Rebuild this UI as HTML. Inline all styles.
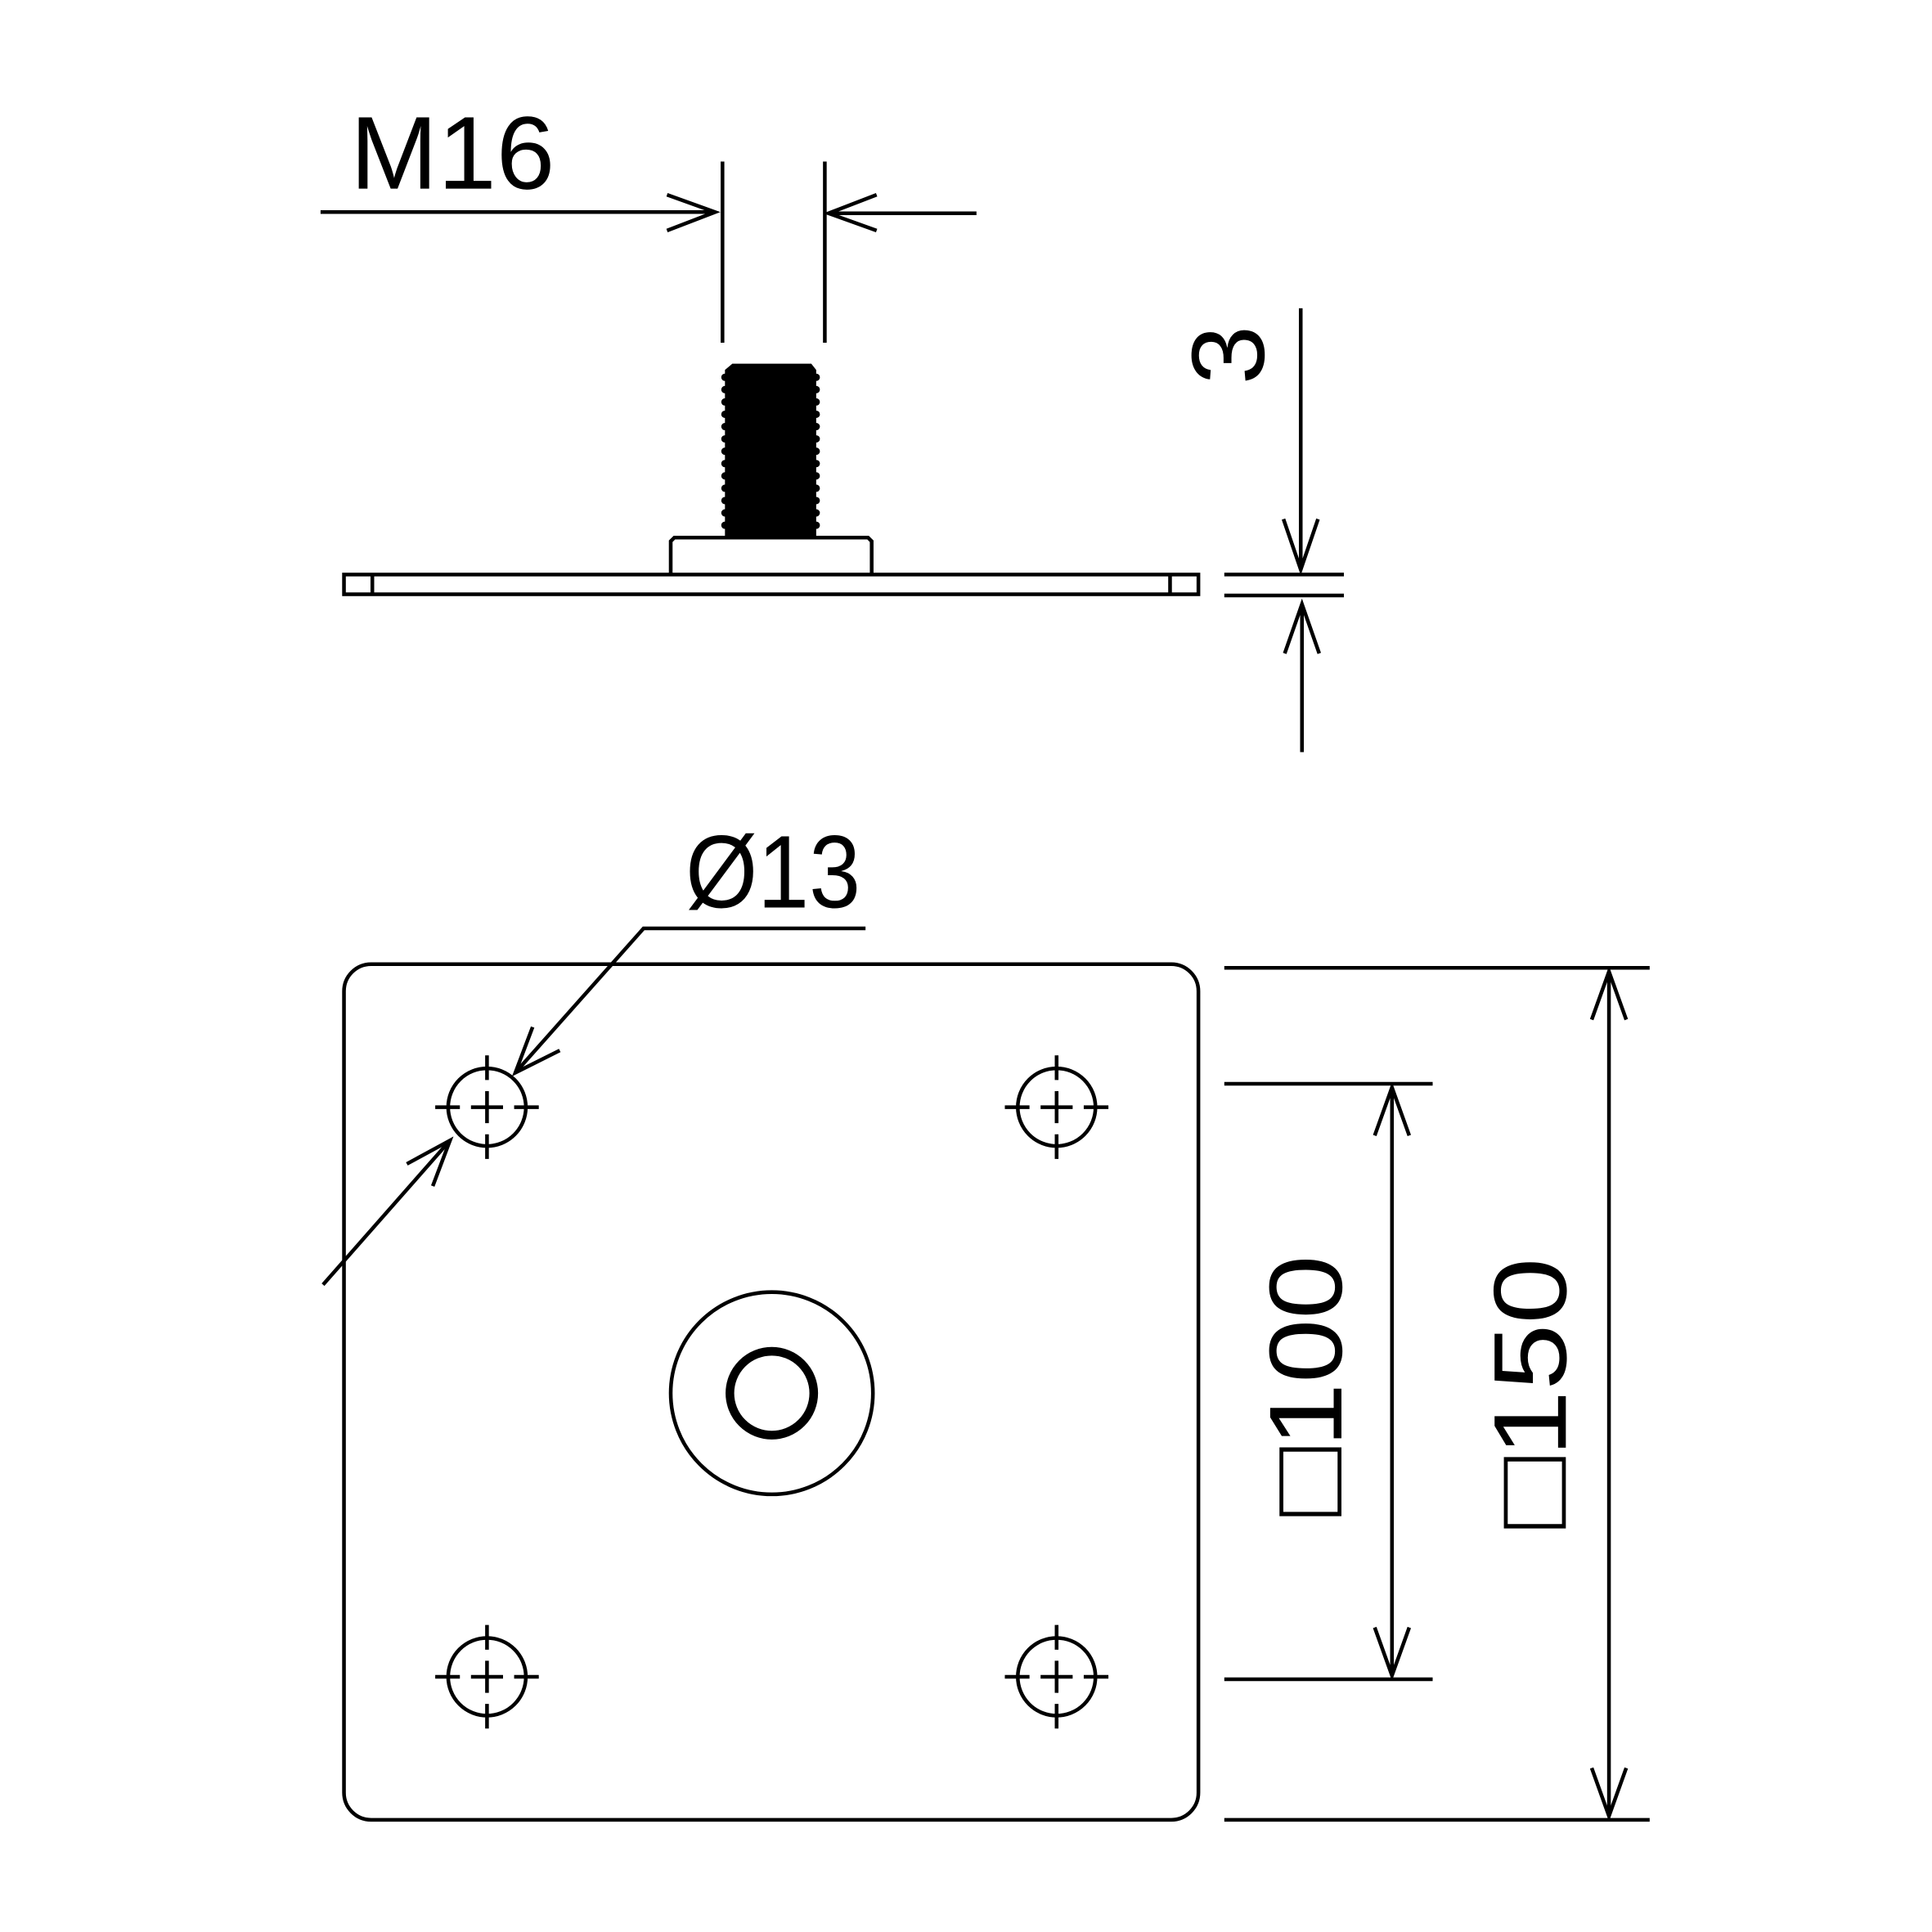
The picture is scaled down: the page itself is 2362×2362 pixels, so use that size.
<!DOCTYPE html>
<html><head><style>html,body{margin:0;padding:0;background:#fff}svg{display:block}</style></head>
<body>
<svg width="2362" height="2362" viewBox="0 0 1567 1567" xmlns="http://www.w3.org/2000/svg">
<defs>
<g id="hole">
<circle r="31.5" fill="none" stroke="#000" stroke-width="3"/>
<path d="M-42 0H-22M-13 0H13M22 0H42M0 -42V-22M0 -13V13M0 22V42" stroke="#000" stroke-width="3"/>
</g>
</defs>
<g fill="none" stroke="#000" stroke-width="3">
<!-- M16 dims -->
<line x1="260" y1="172" x2="580" y2="172"/>
<polyline points="541,158 580,172 541,187"/>
<line x1="586" y1="131" x2="586" y2="278"/>
<line x1="669" y1="131" x2="669" y2="278"/>
<line x1="672" y1="173" x2="792" y2="173"/>
<polyline points="711,158 672,173 711,187"/>
<!-- side view plate -->
<rect x="279" y="466" width="693" height="16"/>
<line x1="302" y1="466" x2="302" y2="482"/>
<line x1="949" y1="466" x2="949" y2="482"/>
<path d="M544 466V439l3-3h157l3 3V466"/>
<!-- 3 dim -->
<line x1="1055" y1="250" x2="1055" y2="462"/>
<polyline points="1041,421 1055,462 1069,421"/>
<line x1="1056" y1="490" x2="1056" y2="610"/>
<polyline points="1042,530 1056,490 1070,530"/>
<line x1="993" y1="466" x2="1090" y2="466"/>
<line x1="993" y1="483" x2="1090" y2="483"/>
<!-- top view plate -->
<rect x="279" y="782" width="693" height="694" rx="22"/>
<circle cx="626" cy="1130" r="82"/>
<circle cx="626" cy="1130" r="34" stroke-width="7"/>
<!-- dia 13 leader -->
<polyline points="702,753 522,753 418,870"/>
<polyline points="432,833 418,870 454,852"/>
<line x1="262" y1="1042" x2="365" y2="925"/>
<polyline points="330,944 365,925 351,962"/>
<!-- right dims -->
<line x1="993" y1="785" x2="1338" y2="785"/>
<line x1="993" y1="1476" x2="1338" y2="1476"/>
<line x1="993" y1="879" x2="1162" y2="879"/>
<line x1="993" y1="1362" x2="1162" y2="1362"/>
<line x1="1129" y1="882" x2="1129" y2="1359"/>
<polyline points="1115,921 1129,882 1143,921"/>
<polyline points="1115,1320 1129,1359 1143,1320"/>
<line x1="1305" y1="788" x2="1305" y2="1473"/>
<polyline points="1291,827 1305,788 1319,827"/>
<polyline points="1291,1434 1305,1473 1319,1434"/>
</g>
<!-- bolt -->
<path d="M594 295H658l4 5V436H588V300Z" fill="#000"/>
<g fill="#000">
<circle cx="588" cy="306" r="3"/><circle cx="588" cy="316" r="3"/><circle cx="588" cy="326" r="3"/><circle cx="588" cy="336" r="3"/><circle cx="588" cy="346" r="3"/><circle cx="588" cy="356" r="3"/><circle cx="588" cy="366" r="3"/><circle cx="588" cy="376" r="3"/><circle cx="588" cy="386" r="3"/><circle cx="588" cy="396" r="3"/><circle cx="588" cy="406" r="3"/><circle cx="588" cy="416" r="3"/><circle cx="588" cy="426" r="3"/>
<circle cx="662" cy="306" r="3"/><circle cx="662" cy="316" r="3"/><circle cx="662" cy="326" r="3"/><circle cx="662" cy="336" r="3"/><circle cx="662" cy="346" r="3"/><circle cx="662" cy="356" r="3"/><circle cx="662" cy="366" r="3"/><circle cx="662" cy="376" r="3"/><circle cx="662" cy="386" r="3"/><circle cx="662" cy="396" r="3"/><circle cx="662" cy="406" r="3"/><circle cx="662" cy="416" r="3"/><circle cx="662" cy="426" r="3"/>
</g>
<use href="#hole" x="395" y="898"/>
<use href="#hole" x="857" y="898"/>
<use href="#hole" x="395" y="1360"/>
<use href="#hole" x="857" y="1360"/>
<g font-family="Liberation Sans, sans-serif" font-size="84" fill="#000">
<text x="284" y="153" textLength="166" lengthAdjust="spacingAndGlyphs">M16</text>
<text x="556" y="736" textLength="142" lengthAdjust="spacingAndGlyphs">Ø13</text>
<text transform="translate(1025,312) rotate(-90)" textLength="48" lengthAdjust="spacingAndGlyphs">3</text>
<text transform="translate(1088,1230) rotate(-90)" textLength="212" lengthAdjust="spacingAndGlyphs">□100</text>
<text transform="translate(1270,1240) rotate(-90)" textLength="220" lengthAdjust="spacingAndGlyphs">□150</text>
</g>
</svg>
</body></html>
